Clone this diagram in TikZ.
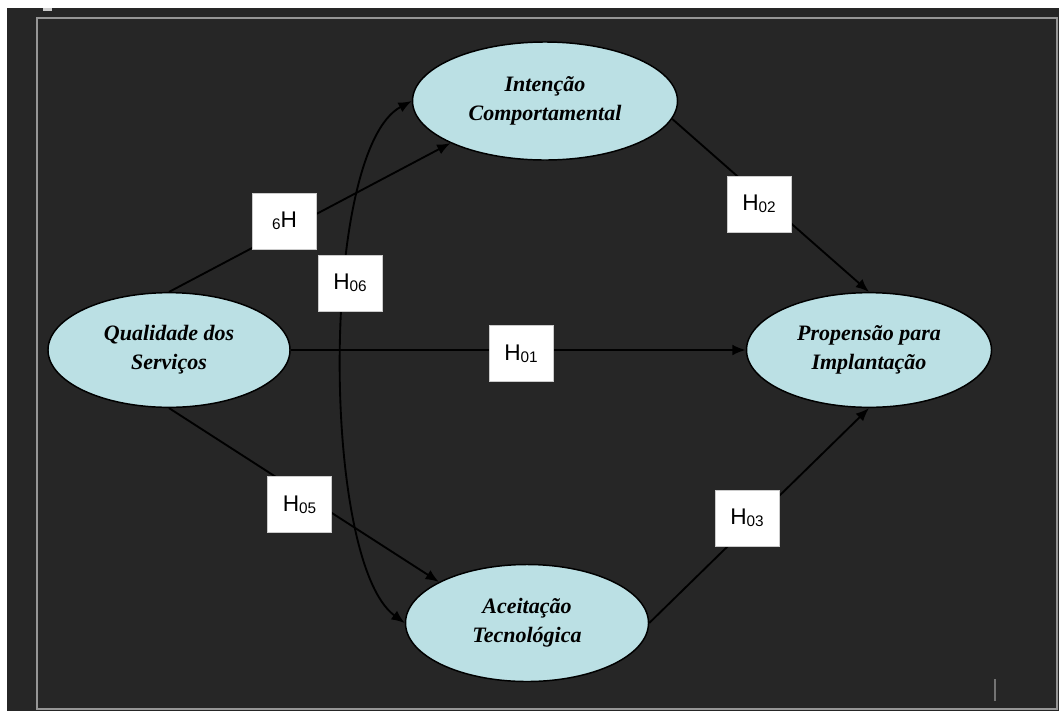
\documentclass[tikz,border=0pt]{standalone}
\usepackage{fontspec}
\setmainfont{Liberation Serif}
\newfontfamily\hfont{Liberation Sans}
\usetikzlibrary{arrows.meta,shapes.geometric}

\definecolor{fundo}{RGB}{38,38,38}
\definecolor{moldura}{RGB}{150,150,150}
\definecolor{elipse}{RGB}{187,224,228}

\newcommand{\hip}[1]{H\raisebox{-1.7pt}{\fontsize{11.5}{12}\selectfont #1}}

\tikzset{
	construto/.style={ellipse, draw=black, line width=1.1pt, fill=elipse, align=center, inner sep=0pt,
		font=\fontsize{16.5}{21.5}\selectfont\bfseries\itshape},
	hipotese/.style={rectangle, draw=moldura!50, line width=0.4pt, fill=white, inner sep=0pt,
		minimum width=48pt, minimum height=42pt, font=\hfont\fontsize{17}{20}\selectfont},
	seta/.style={-{Latex[length=10pt,width=8pt]}, line width=1.4pt, black},
	dupla/.style={{Latex[length=10pt,width=8pt]}-{Latex[length=10pt,width=8pt]}, line width=1.4pt, black},
}

\begin{document}
\begin{tikzpicture}[x=0.75pt,y=-0.75pt]
			% fundo e moldura
			\useasboundingbox (0,0) rectangle (1059,711);
			\fill[white] (0,0) rectangle (1059,711);
			\fill[fundo] (7,8) rectangle (1059,711);
			\fill[black!20] (43,8) rectangle (52,11);
			\draw[moldura, line width=1.2pt] (37,18) rectangle (1057,709);
			\fill[black!55] (994,679) rectangle (996,701);
			
			% construtos
			\node[construto, minimum width=181.5pt, minimum height=86pt] (qual) at (169,350) {Qualidade dos\\Serviços};
			\node[construto, minimum width=198.75pt, minimum height=88.5pt] (intencao) at (545,101) {Intenção\\Comportamental};
			\node[construto, minimum width=183.75pt, minimum height=86pt] (propensao) at (869,350) {Propensão para\\Implantação};
			\node[construto, minimum width=182.25pt, minimum height=87.75pt] (aceitacao) at (527,623) {Aceitação\\Tecnológica};
			
			% relacoes
			\draw [seta] (qual.north) to (intencao.204);
			\draw [seta] (qual.east) to (propensao.west);
			\draw [seta] (qual.south) to (aceitacao.155);
			\draw [seta] (intencao.-8) to (propensao.north);
			\draw [seta] (aceitacao.east) to (propensao.south);
			\draw [dupla] (intencao.west) to [out=208, in=144, distance=78pt] (aceitacao.west);
			
			% hipoteses
			\node[hipotese] (h6) at (284.5,221) {\raisebox{-1.7pt}{\fontsize{11.5}{12}\selectfont 6}H};
			\node[hipotese] (h06) at (350,283) {\hip{06}};
			\node[hipotese] (h01) at (521,353.5) {\hip{01}};
			\node[hipotese] (h02) at (759,204) {\hip{02}};
			\node[hipotese] (h05) at (299.5,504.5) {\hip{05}};
			\node[hipotese] (h03) at (747,518) {\hip{03}};
\end{tikzpicture}
\end{document}
